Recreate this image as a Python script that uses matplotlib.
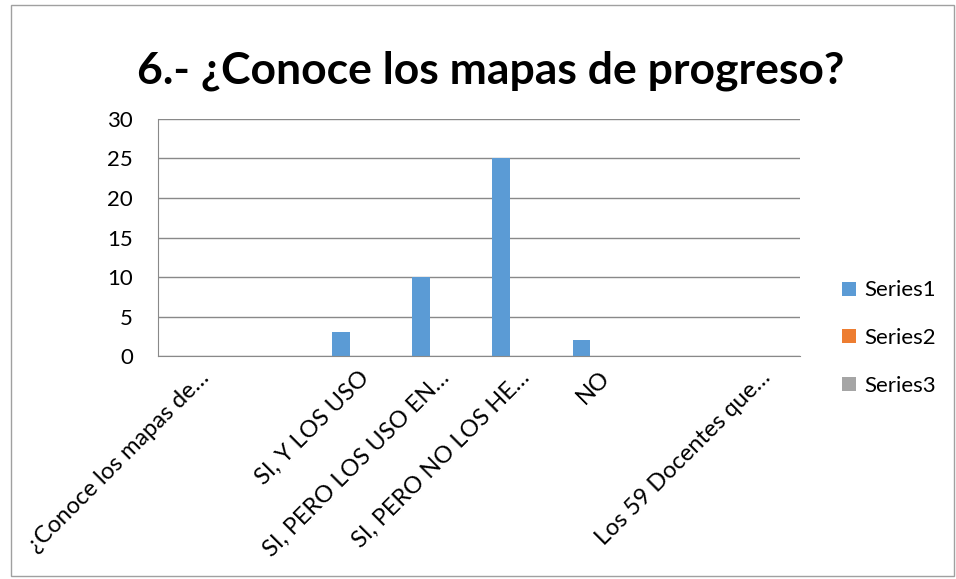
import matplotlib.pyplot as plt
import numpy as np
from matplotlib.patches import Rectangle

plt.rcParams['font.family'] = ['Lato', 'DejaVu Sans']

categories = ['¿Conoce los mapas de…', '', 'SI, Y LOS USO', 'SI, PERO LOS USO EN…',
              'SI, PERO NO LOS HE…', 'NO', '', 'Los 59 Docentes que…']
series1 = [0, 0, 3, 10, 25, 2, 0, 0]
series2 = [0, 0, 0, 0, 0, 0, 0, 0]
series3 = [0, 0, 0, 0, 0, 0, 0, 0]
series_names = ['Series1', 'Series2', 'Series3']
colors = ['#5b9bd5', '#ed7d31', '#a5a5a5']

fig = plt.figure(figsize=(9.56, 5.79), dpi=100)
ax = fig.add_axes([0.1653, 0.3851, 0.6715, 0.4094])

x = np.arange(len(categories))
w = 1 / 4.5  # excel gap width 150%
for i, (vals, name, c) in enumerate(zip([series1, series2, series3], series_names, colors)):
    ax.bar(x + (i - 1) * w, vals, width=w, color=c, label=name)

ax.set_xlim(-0.5, len(categories) - 0.5)
ax.set_ylim(0, 30)
ax.set_yticks(range(0, 31, 5))
ax.yaxis.grid(True, color='#898989', linewidth=1)
ax.set_axisbelow(True)
for s in ['top', 'right']:
    ax.spines[s].set_visible(False)
ax.spines['left'].set_color('#898989')
ax.spines['bottom'].set_color('#898989')
ax.tick_params(axis='y', length=0, labelsize=16, pad=18)
ax.tick_params(axis='x', length=0, pad=8)
ax.set_xticks(x)
ax.set_xticklabels(categories, rotation=45, ha='right', rotation_mode='anchor', fontsize=17)

fig.text(0.513, 0.877, '6.- ¿Conoce los mapas de progreso?', ha='center', va='center',
         fontsize=32, fontweight='bold')

ax.legend(loc='center left', bbox_to_anchor=(1.035, 0.075), frameon=False, fontsize=16,
          handlelength=0.6, handleheight=0.6, labelspacing=1.25, handletextpad=0.4)

fig.patches.append(Rectangle((0.011, 0.006), 0.987, 0.986, transform=fig.transFigure,
                             fill=False, edgecolor='#a0a0a0', linewidth=1))

fig.savefig('out.png', dpi=100)
